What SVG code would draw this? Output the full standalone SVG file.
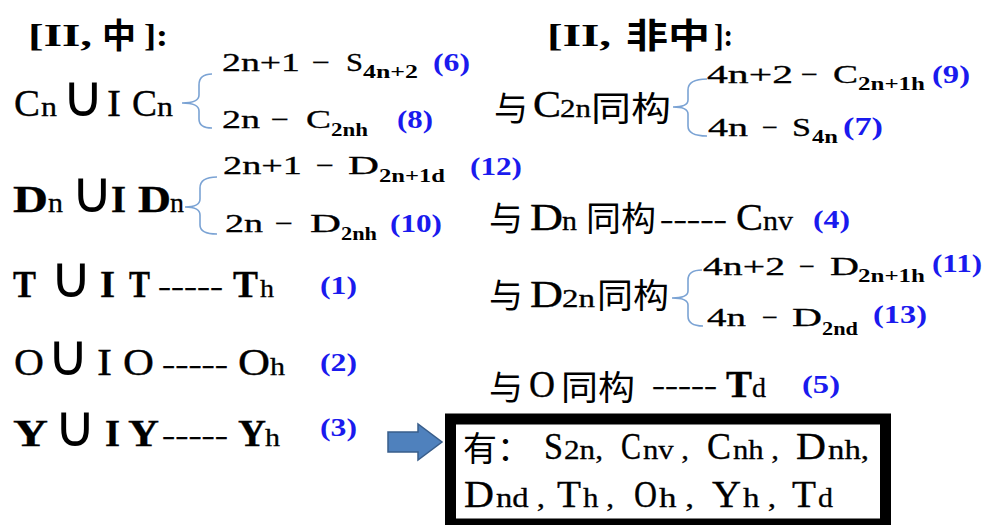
<svg xmlns="http://www.w3.org/2000/svg" width="986" height="525" viewBox="0 0 986 525">
<style>
text{font-family:"Liberation Serif","DejaVu Serif","Noto Sans CJK SC",serif;fill:#000}
.cjk{font-family:"Noto Sans CJK SC",sans-serif;font-size:34px}
.b{font-weight:bold}
.L{font-size:38px;stroke:#000;stroke-width:0.35}
.n{font-size:28px;stroke:#000;stroke-width:0.3}
.M{font-size:26px;stroke:#000;stroke-width:0.3}
.sb{font-size:19px;font-weight:bold}
.num{font-size:25px;font-weight:bold;fill:#1a1aee}
.cup{font-family:"DejaVu Sans",sans-serif;font-size:58px}
.br{fill:none;stroke:#7ba3d4;stroke-width:1.6}
</style>
<rect width="986" height="525" fill="#fff"/>

<g id="connectors">
<path class="br" d="M212,74 Q199,74 199,85 L199,95 Q199,103 182,103 Q199,103 199,111 L199,119 Q199,128 212,128"/>
<path class="br" d="M217,177 Q200,177 200,188 L200,199 Q200,207 185,207 Q200,207 200,215 L200,225 Q200,234 217,234"/>
<path class="br" d="M707,79 Q688,79 688,90 L688,100 Q688,107 673,107 Q688,107 688,114 L688,126 Q688,136 707,136"/>
<path class="br" d="M702,270 Q688,270 688,280 L688,291 Q688,298 672,298 Q688,298 688,305 L688,316 Q688,326 703,326"/>
<polygon points="388,432 418,432 418,424 442,442 418,460 418,452 388,452" fill="#4f81bd" stroke="#385d8a" stroke-width="1.5"/>
</g>

<g id="title-left">
<text class="b" font-size="32" x="28" y="46" textLength="64" lengthAdjust="spacingAndGlyphs">[II,</text>
<text class="cjk b" x="102" y="48">中</text>
<text class="b" font-size="32" x="144" y="46" textLength="24" lengthAdjust="spacingAndGlyphs">]:</text>
</g>

<g id="cn-union">
<text class="L" x="14" y="116" textLength="26" lengthAdjust="spacingAndGlyphs">C</text>
<text class="n" x="41" y="116" textLength="16" lengthAdjust="spacingAndGlyphs">n</text>
<text class="cup" x="62" y="116">∪</text>
<text class="L" x="107" y="116" textLength="14" lengthAdjust="spacingAndGlyphs">I</text>
<text class="L" x="132" y="116" textLength="25" lengthAdjust="spacingAndGlyphs">C</text>
<text class="n" x="157" y="116" textLength="16" lengthAdjust="spacingAndGlyphs">n</text>
</g>
<g id="s4n2">
<text class="M" x="222" y="71" textLength="78" lengthAdjust="spacingAndGlyphs">2n+1</text>
<text class="M" x="312" y="71" textLength="18" lengthAdjust="spacingAndGlyphs">−</text>
<text class="M" x="346" y="71" textLength="17" lengthAdjust="spacingAndGlyphs">S</text>
<text class="sb" x="363" y="78" textLength="55" lengthAdjust="spacingAndGlyphs">4n+2</text>
<text class="num" x="433" y="71" textLength="37" lengthAdjust="spacingAndGlyphs">(6)</text>
</g>
<g id="c2nh">
<text class="M" x="222" y="128" textLength="38" lengthAdjust="spacingAndGlyphs">2n</text>
<text class="M" x="271" y="128" textLength="18" lengthAdjust="spacingAndGlyphs">−</text>
<text class="M" x="306" y="128" textLength="25" lengthAdjust="spacingAndGlyphs">C</text>
<text class="sb" x="331" y="136" textLength="37" lengthAdjust="spacingAndGlyphs">2nh</text>
<text class="num" x="397" y="128" textLength="36" lengthAdjust="spacingAndGlyphs">(8)</text>
</g>

<g id="dn-union">
<text class="L b" x="13" y="212" textLength="35" lengthAdjust="spacingAndGlyphs">D</text>
<text class="n" x="48" y="212" textLength="15" lengthAdjust="spacingAndGlyphs">n</text>
<text class="cup" x="71" y="212">∪</text>
<text class="L b" x="111" y="212" textLength="15" lengthAdjust="spacingAndGlyphs">I</text>
<text class="L b" x="138" y="212" textLength="33" lengthAdjust="spacingAndGlyphs">D</text>
<text class="n" x="170" y="212" textLength="14" lengthAdjust="spacingAndGlyphs">n</text>
</g>
<g id="d2n1d">
<text class="M" x="223" y="174" textLength="79" lengthAdjust="spacingAndGlyphs">2n+1</text>
<text class="M" x="316" y="174" textLength="18" lengthAdjust="spacingAndGlyphs">−</text>
<text class="M" x="348" y="174" textLength="31" lengthAdjust="spacingAndGlyphs">D</text>
<text class="sb" x="379" y="182" textLength="66" lengthAdjust="spacingAndGlyphs">2n+1d</text>
<text class="num" x="470" y="175" textLength="52" lengthAdjust="spacingAndGlyphs">(12)</text>
</g>
<g id="d2nh">
<text class="M" x="225" y="232" textLength="38" lengthAdjust="spacingAndGlyphs">2n</text>
<text class="M" x="275" y="232" textLength="18" lengthAdjust="spacingAndGlyphs">−</text>
<text class="M" x="310" y="232" textLength="31" lengthAdjust="spacingAndGlyphs">D</text>
<text class="sb" x="341" y="240" textLength="36" lengthAdjust="spacingAndGlyphs">2nh</text>
<text class="num" x="390" y="232" textLength="52" lengthAdjust="spacingAndGlyphs">(10)</text>
</g>

<g id="t-union">
<text class="L b" x="13" y="297" textLength="23" lengthAdjust="spacingAndGlyphs">T</text>
<text class="cup" x="50" y="297">∪</text>
<text class="L b" x="100" y="297" textLength="15" lengthAdjust="spacingAndGlyphs">I</text>
<text class="L b" x="129" y="297" textLength="21" lengthAdjust="spacingAndGlyphs">T</text>
<text class="M" x="158" y="295" textLength="65" lengthAdjust="spacingAndGlyphs">-----</text>
<text class="L b" x="233" y="297" textLength="25" lengthAdjust="spacingAndGlyphs">T</text>
<text class="M" x="260" y="297" textLength="14" lengthAdjust="spacingAndGlyphs">h</text>
<text class="num" x="320" y="294" textLength="37" lengthAdjust="spacingAndGlyphs">(1)</text>
</g>

<g id="o-union">
<text class="L" x="14" y="375" textLength="30" lengthAdjust="spacingAndGlyphs">O</text>
<text class="cup" x="47" y="375">∪</text>
<text class="L" x="97" y="375" textLength="15" lengthAdjust="spacingAndGlyphs">I</text>
<text class="L" x="123" y="375" textLength="31" lengthAdjust="spacingAndGlyphs">O</text>
<text class="M" x="162" y="373" textLength="66" lengthAdjust="spacingAndGlyphs">-----</text>
<text class="L" x="238" y="375" textLength="32" lengthAdjust="spacingAndGlyphs">O</text>
<text class="M" x="270" y="375" textLength="15" lengthAdjust="spacingAndGlyphs">h</text>
<text class="num" x="320" y="371" textLength="37" lengthAdjust="spacingAndGlyphs">(2)</text>
</g>

<g id="y-union">
<text class="L b" x="13" y="446" textLength="35" lengthAdjust="spacingAndGlyphs">Y</text>
<text class="cup" x="54" y="446">∪</text>
<text class="L b" x="105" y="446" textLength="15" lengthAdjust="spacingAndGlyphs">I</text>
<text class="L b" x="128" y="446" textLength="31" lengthAdjust="spacingAndGlyphs">Y</text>
<text class="M" x="162" y="444" textLength="66" lengthAdjust="spacingAndGlyphs">-----</text>
<text class="L b" x="238" y="446" textLength="28" lengthAdjust="spacingAndGlyphs">Y</text>
<text class="M" x="265" y="446" textLength="15" lengthAdjust="spacingAndGlyphs">h</text>
<text class="num" x="320" y="436" textLength="37" lengthAdjust="spacingAndGlyphs">(3)</text>
</g>

<g id="title-right">
<text class="b" font-size="32" x="547" y="46" textLength="64" lengthAdjust="spacingAndGlyphs">[II,</text>
<text class="cjk b" x="626" y="48" textLength="84" lengthAdjust="spacingAndGlyphs">非中</text>
<text class="b" font-size="32" x="714" y="46" textLength="19" lengthAdjust="spacingAndGlyphs">]:</text>
</g>

<g id="iso-c2n">
<text class="cjk" x="494" y="121">与</text>
<text class="L" x="533" y="117" textLength="28" lengthAdjust="spacingAndGlyphs">C</text>
<text class="M" x="560" y="117" textLength="31" lengthAdjust="spacingAndGlyphs">2n</text>
<text class="cjk" x="591" y="121" textLength="80" lengthAdjust="spacingAndGlyphs">同构</text>
</g>
<g id="c2n1h">
<text class="M" x="707" y="83" textLength="86" lengthAdjust="spacingAndGlyphs">4n+2</text>
<text class="M" x="801" y="83" textLength="17" lengthAdjust="spacingAndGlyphs">−</text>
<text class="M" x="833" y="83" textLength="25" lengthAdjust="spacingAndGlyphs">C</text>
<text class="sb" x="858" y="90" textLength="67" lengthAdjust="spacingAndGlyphs">2n+1h</text>
<text class="num" x="932" y="83" textLength="38" lengthAdjust="spacingAndGlyphs">(9)</text>
</g>
<g id="s4n">
<text class="M" x="708" y="136" textLength="40" lengthAdjust="spacingAndGlyphs">4n</text>
<text class="M" x="762" y="136" textLength="16" lengthAdjust="spacingAndGlyphs">−</text>
<text class="M" x="792" y="136" textLength="19" lengthAdjust="spacingAndGlyphs">S</text>
<text class="sb" x="812" y="143" textLength="26" lengthAdjust="spacingAndGlyphs">4n</text>
<text class="num" x="843" y="135" textLength="40" lengthAdjust="spacingAndGlyphs">(7)</text>
</g>

<g id="iso-dn">
<text class="cjk" x="489" y="231">与</text>
<text class="L" x="530" y="230" textLength="33" lengthAdjust="spacingAndGlyphs">D</text>
<text class="n" x="562" y="230" textLength="15" lengthAdjust="spacingAndGlyphs">n</text>
<text class="cjk" x="586" y="231" textLength="70" lengthAdjust="spacingAndGlyphs">同构</text>
<text class="M" x="660" y="228" textLength="67" lengthAdjust="spacingAndGlyphs">-----</text>
<text class="L" x="736" y="230" textLength="27" lengthAdjust="spacingAndGlyphs">C</text>
<text class="n" x="763" y="230" textLength="30" lengthAdjust="spacingAndGlyphs">nv</text>
<text class="num" x="813" y="228" textLength="37" lengthAdjust="spacingAndGlyphs">(4)</text>
</g>

<g id="iso-d2n">
<text class="cjk" x="489" y="308">与</text>
<text class="L" x="530" y="307" textLength="33" lengthAdjust="spacingAndGlyphs">D</text>
<text class="M" x="562" y="307" textLength="33" lengthAdjust="spacingAndGlyphs">2n</text>
<text class="cjk" x="597" y="308" textLength="72" lengthAdjust="spacingAndGlyphs">同构</text>
</g>
<g id="d2n1h">
<text class="M" x="703" y="275" textLength="82" lengthAdjust="spacingAndGlyphs">4n+2</text>
<text class="M" x="799" y="275" textLength="16" lengthAdjust="spacingAndGlyphs">−</text>
<text class="M" x="830" y="275" textLength="29" lengthAdjust="spacingAndGlyphs">D</text>
<text class="sb" x="858" y="282" textLength="67" lengthAdjust="spacingAndGlyphs">2n+1h</text>
<text class="num" x="932" y="272" textLength="50" lengthAdjust="spacingAndGlyphs">(11)</text>
</g>
<g id="d2nd">
<text class="M" x="707" y="326" textLength="39" lengthAdjust="spacingAndGlyphs">4n</text>
<text class="M" x="762" y="326" textLength="16" lengthAdjust="spacingAndGlyphs">−</text>
<text class="M" x="792" y="326" textLength="30" lengthAdjust="spacingAndGlyphs">D</text>
<text class="sb" x="822" y="335" textLength="36" lengthAdjust="spacingAndGlyphs">2nd</text>
<text class="num" x="873" y="323" textLength="54" lengthAdjust="spacingAndGlyphs">(13)</text>
</g>

<g id="iso-o">
<text class="cjk" font-size="32" x="489" y="400">与</text>
<text class="L" font-size="35" x="529" y="397" textLength="26" lengthAdjust="spacingAndGlyphs">O</text>
<text class="cjk" font-size="32" x="561" y="400" textLength="74" lengthAdjust="spacingAndGlyphs">同构</text>
<text class="M" x="652" y="394" textLength="65" lengthAdjust="spacingAndGlyphs">-----</text>
<text class="L b" x="726" y="397" textLength="26" lengthAdjust="spacingAndGlyphs">T</text>
<text class="n" x="752" y="397" textLength="14" lengthAdjust="spacingAndGlyphs">d</text>
<text class="num" x="802" y="393" textLength="38" lengthAdjust="spacingAndGlyphs">(5)</text>
</g>

<g id="summary-box">
<rect x="450.5" y="419" width="435" height="105" fill="#fff" stroke="#000" stroke-width="11"/>
<text class="cjk" font-size="32" x="463" y="461">有：</text>
<text class="L" font-size="34" x="544" y="459" textLength="19" lengthAdjust="spacingAndGlyphs">S</text>
<text class="n" font-size="26" x="564" y="459" textLength="39" lengthAdjust="spacingAndGlyphs">2n,</text>
<text class="L" font-size="34" x="621" y="459" textLength="20" lengthAdjust="spacingAndGlyphs">C</text>
<text class="n" font-size="26" x="643" y="459" textLength="46" lengthAdjust="spacingAndGlyphs">nv ,</text>
<text class="L" font-size="34" x="707" y="459" textLength="24" lengthAdjust="spacingAndGlyphs">C</text>
<text class="n" font-size="26" x="733" y="459" textLength="46" lengthAdjust="spacingAndGlyphs">nh ,</text>
<text class="L" font-size="34" x="796" y="459" textLength="30" lengthAdjust="spacingAndGlyphs">D</text>
<text class="n" font-size="26" x="828" y="459" textLength="41" lengthAdjust="spacingAndGlyphs">nh,</text>
<text class="L" font-size="34" x="464" y="507" textLength="30" lengthAdjust="spacingAndGlyphs">D</text>
<text class="n" font-size="26" x="496" y="507" textLength="49" lengthAdjust="spacingAndGlyphs">nd ,</text>
<text class="L" font-size="34" x="557" y="507" textLength="24" lengthAdjust="spacingAndGlyphs">T</text>
<text class="n" font-size="26" x="583" y="507" textLength="31" lengthAdjust="spacingAndGlyphs">h ,</text>
<text class="L" font-size="34" x="634" y="507" textLength="23" lengthAdjust="spacingAndGlyphs">O</text>
<text class="n" font-size="26" x="659" y="507" textLength="35" lengthAdjust="spacingAndGlyphs">h ,</text>
<text class="L" font-size="34" x="712" y="507" textLength="29" lengthAdjust="spacingAndGlyphs">Y</text>
<text class="n" font-size="26" x="743" y="507" textLength="33" lengthAdjust="spacingAndGlyphs">h ,</text>
<text class="L" font-size="34" x="792" y="507" textLength="24" lengthAdjust="spacingAndGlyphs">T</text>
<text class="n" font-size="26" x="818" y="507" textLength="15" lengthAdjust="spacingAndGlyphs">d</text>
</g>
</svg>
